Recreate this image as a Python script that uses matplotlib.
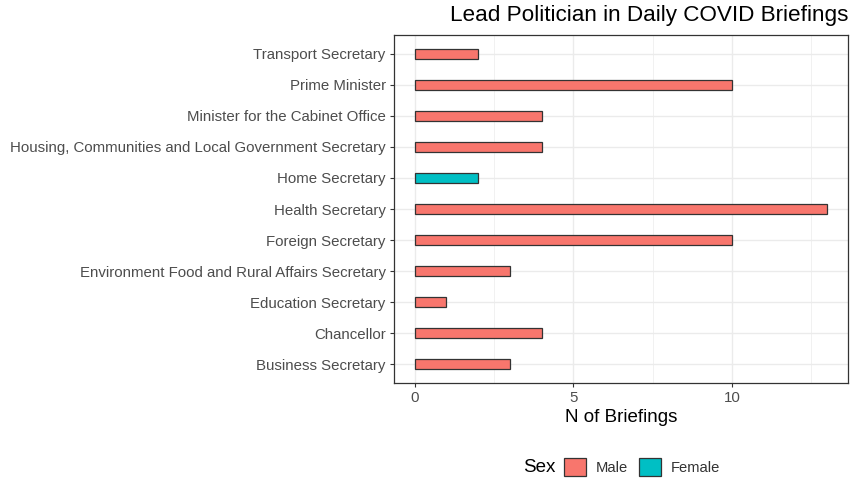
import matplotlib.pyplot as plt
import matplotlib.patches as mpatches
import numpy as np

# data, bottom to top as drawn
roles = [
    "Business Secretary",
    "Chancellor",
    "Education Secretary",
    "Environment Food and Rural Affairs Secretary",
    "Foreign Secretary",
    "Health Secretary",
    "Home Secretary",
    "Housing, Communities and Local Government Secretary",
    "Minister for the Cabinet Office",
    "Prime Minister",
    "Transport Secretary",
]
briefings = [3, 4, 1, 3, 10, 13, 2, 4, 4, 10, 2]
sex = ["Male", "Male", "Male", "Male", "Male", "Male", "Female", "Male", "Male", "Male", "Male"]

sex_levels = ["Male", "Female"]
sex_colors = {"Male": "#F8766D", "Female": "#00BFC4"}

plt.rcParams["font.family"] = ["Liberation Sans", "DejaVu Sans"]

fig = plt.figure(figsize=(8.5, 4.8), dpi=100)
ax = fig.add_axes([394 / 850, 1 - 383 / 480, (848 - 394) / 850, (383 - 35) / 480])

y = np.arange(1, len(roles) + 1)
ax.barh(y, briefings, height=0.32, color=[sex_colors[s] for s in sex],
        edgecolor="#333333", linewidth=0.9, zorder=3)

ax.set_xlim(-0.65, 13.65)
ax.set_ylim(0.4, len(roles) + 0.6)
ax.set_yticks(y)
ax.set_yticklabels(roles)
ax.set_xticks([0, 5, 10])
ax.set_xticks([2.5, 7.5, 12.5], minor=True)

ax.grid(which="major", color="#EBEBEB", linewidth=1.0, zorder=0)
ax.grid(which="minor", axis="x", color="#EBEBEB", linewidth=0.5, zorder=0)
ax.set_axisbelow(True)

ax.tick_params(axis="both", which="major", length=3, width=0.8, color="#333333",
               labelcolor="#4D4D4D", labelsize=10.8, pad=3)
ax.tick_params(axis="both", which="minor", length=0)
for s in ax.spines.values():
    s.set_color("#333333")
    s.set_linewidth(0.9)

ax.set_xlabel("N of Briefings", fontsize=13.5, color="black", labelpad=3)
fig.text(848 / 850, 1 - 16 / 480, "Lead Politician in Daily COVID Briefings",
         ha="right", va="center", fontsize=16.2)

# legend at the bottom: title on the left, keys in a row
handles = [mpatches.Patch(facecolor=sex_colors[s], edgecolor="#333333", linewidth=0.9, label=s)
           for s in sex_levels]
fig.legend(handles=handles, loc="center left", bbox_to_anchor=(557 / 850, 1 - 467 / 480),
           ncol=2, frameon=False, fontsize=10.6, borderpad=0, labelcolor="#333333",
           handlelength=1.45, handleheight=1.45, handletextpad=0.7, columnspacing=0.75)
fig.text(555 / 850, 1 - 467 / 480, "Sex", ha="right", va="center", fontsize=13.5)

fig.savefig("out.png", dpi=100)
